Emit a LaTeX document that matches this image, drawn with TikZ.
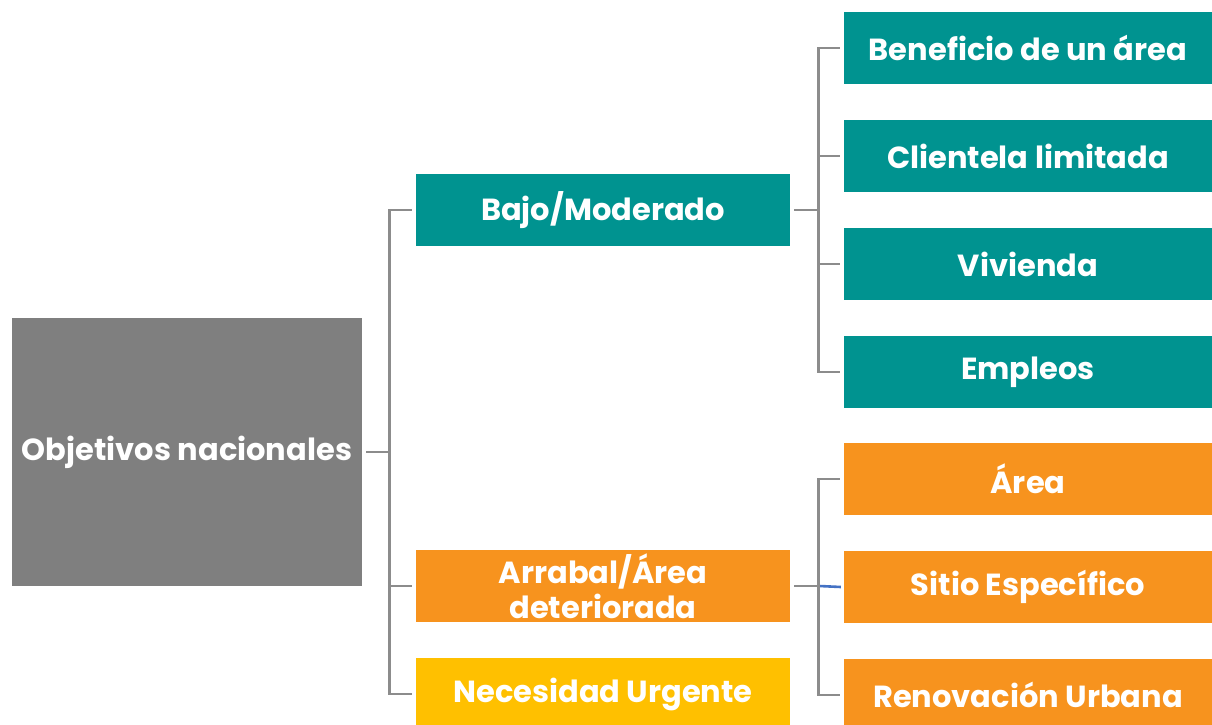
\documentclass[tikz,border=0pt]{standalone}
\usepackage{fontspec}
\setmainfont{Poppins}
\definecolor{teal1}{HTML}{009390}
\definecolor{orange1}{HTML}{F7931E}
\definecolor{yellow1}{HTML}{FFC000}
\definecolor{gray1}{HTML}{7F7F7F}
\definecolor{line1}{HTML}{8C8C8C}
\definecolor{blue1}{HTML}{4472C4}
\tikzset{
  box/.style={rectangle, inner sep=0pt, text=white, align=center,
    font=\fontsize{30.5}{35}\selectfont\bfseries},
  midbox/.style={box, minimum width=374pt, minimum height=72pt},
  leafbox/.style={box, minimum width=368pt, minimum height=72pt},
  conn/.style={draw=line1, line width=2.6pt},
  bconn/.style={draw=blue1, line width=2.6pt},
}
\begin{document}
\begin{tikzpicture}[x=1pt,y=-1pt]
\useasboundingbox (0,0) rectangle (1212,725);
\clip (0,0) rectangle (1212,725);
\node[box, fill=gray1, minimum width=350pt, minimum height=268pt] (obj) at (187,452) {Objetivos nacionales};
\node[midbox, fill=teal1] (bajo) at (603,210) {Bajo/Moderado};
\node[midbox, fill=orange1] (arr) at (603,586) {Arrabal/Área\\deteriorada};
\node[midbox, fill=yellow1] (nec) at (603,694) {Necesidad Urgente};
\node[leafbox, fill=teal1] (ben) at (1028,48) {Beneficio de un área};
\node[leafbox, fill=teal1] (cli) at (1028,156) {Clientela limitada};
\node[leafbox, fill=teal1] (viv) at (1028,264) {Vivienda};
\node[leafbox, fill=teal1] (emp) at (1028,372) {Empleos};
\node[leafbox, fill=orange1] (area) at (1028,479) {Área};
\node[leafbox, fill=orange1] (sit) at (1028,587) {Sitio Específico};
\node[leafbox, fill=orange1] (ren) at (1028,695) {Renovación Urbana};
% connectors from Objetivos
\foreach \t in {bajo,arr,nec}
  \draw[conn] ([xshift=4pt]obj.east) -- ++(23,0) |- ([xshift=-4pt]\t.west);
% connectors from Bajo/Moderado
\foreach \t in {ben,cli,viv,emp}
  \draw[conn] ([xshift=4pt]bajo.east) -- ++(24,0) |- ([xshift=-4pt]\t.west);
% connectors from Arrabal
\draw[bconn] ([xshift=29pt]arr.east) -- ([xshift=-3pt]sit.west);
\foreach \t in {area,ren}
  \draw[conn] ([xshift=4pt]arr.east) -- ++(24,0) |- ([xshift=-4pt]\t.west);
\draw[conn] ([xshift=4pt]arr.east) -- ++(25,0);
\end{tikzpicture}
\end{document}
